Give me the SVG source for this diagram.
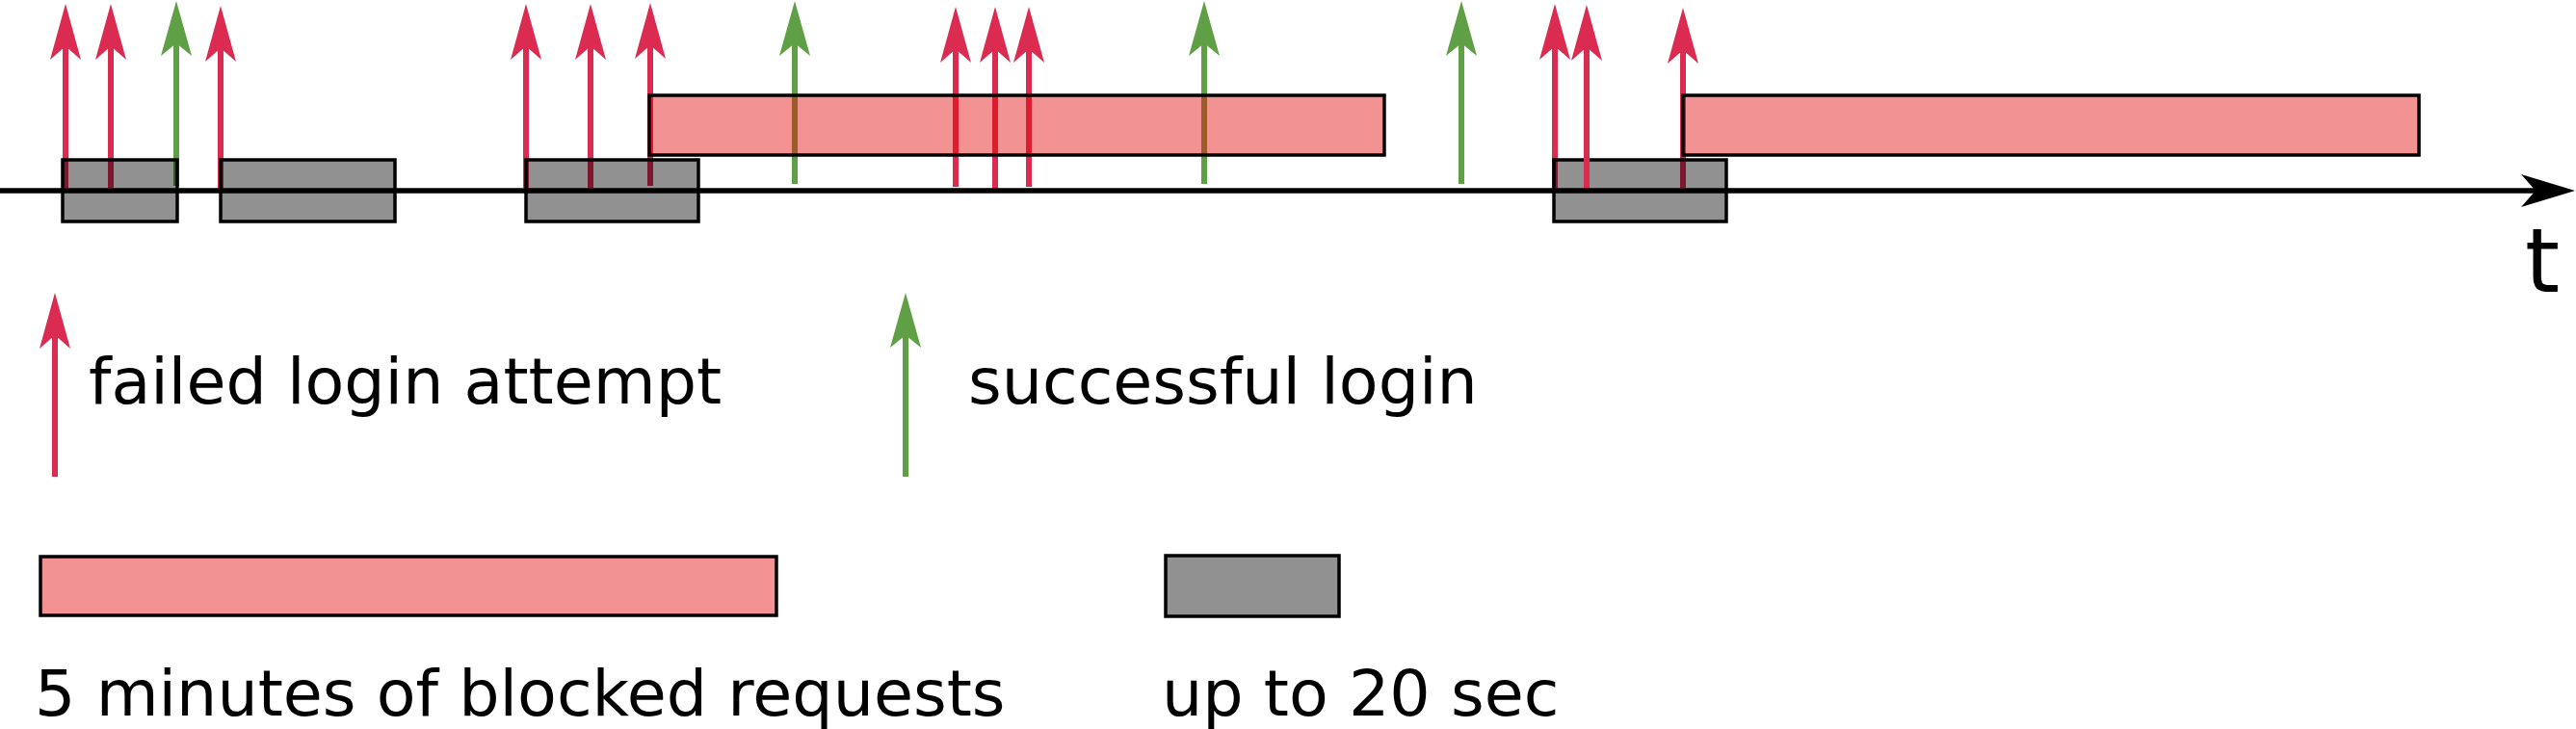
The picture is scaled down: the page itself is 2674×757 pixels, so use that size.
<svg xmlns="http://www.w3.org/2000/svg" width="2674" height="757" viewBox="0 0 2674 757">
<style>
.fail{stroke:#dc2b50;stroke-width:6;fill:none}
.ok{stroke:#5f9f46;stroke-width:6;fill:none}
.fail.a{marker-end:url(#hr)}
.ok.a{marker-end:url(#hg)}
.gray{fill:#000;fill-opacity:0.43;stroke:#000;stroke-width:3.5}
.block{fill:#e40707;fill-opacity:0.44;stroke:#000;stroke-width:3.5}
.lbl{font-family:"DejaVu Sans",sans-serif;font-size:66.7px;fill:#000}
</style>
<defs>
<marker id="hr" markerUnits="userSpaceOnUse" orient="auto" refX="0" refY="0" markerWidth="64" markerHeight="36" viewBox="-16 -18 64 36" overflow="visible">
<path d="M44,0 L-14,-16 L0,0 L-14,16 Z" fill="#dc2b50"/>
</marker>
<marker id="hg" markerUnits="userSpaceOnUse" orient="auto" refX="0" refY="0" markerWidth="64" markerHeight="36" viewBox="-16 -18 64 36" overflow="visible">
<path d="M44,0 L-13,-16 L0,0 L-13,16 Z" fill="#5f9f46"/>
</marker>
</defs>

<g id="connectors">
<g id="events-under">
<line class="fail a" x1="68" y1="195" x2="68" y2="48"/>
<line class="fail a" x1="115" y1="195" x2="115" y2="48"/>
<line class="ok a" x1="183" y1="193" x2="183" y2="45"/>
<line class="fail a" x1="229" y1="195" x2="229" y2="50"/>
<line class="fail a" x1="546" y1="195" x2="546" y2="48"/>
<line class="fail a" x1="613" y1="195" x2="613" y2="48"/>
<line class="fail a" x1="675" y1="193" x2="675" y2="47"/>
<line class="ok a" x1="825" y1="191" x2="825" y2="45"/>
<line class="fail a" x1="992" y1="194" x2="992" y2="51"/>
<line class="fail a" x1="1033" y1="198" x2="1033" y2="51"/>
<line class="fail a" x1="1068" y1="194" x2="1068" y2="51"/>
<line class="ok a" x1="1250" y1="191" x2="1250" y2="45"/>
<line class="ok a" x1="1517" y1="191" x2="1517" y2="45"/>
<line class="fail a" x1="1614" y1="195" x2="1614" y2="48"/>
<line class="fail a" x1="1747" y1="195" x2="1747" y2="52"/>
</g>
<g id="time-axis">
<line x1="0" y1="198" x2="2636" y2="198" stroke="#000" stroke-width="5.5"/>
<path d="M2673,198 L2617,181 L2632,198 L2617,215 Z" fill="#000"/>
</g>
</g>

<g id="wait1"><rect class="gray" x="65" y="166" width="119" height="64"/></g>
<g id="wait2"><rect class="gray" x="229" y="166" width="181" height="64"/></g>
<g id="wait3"><rect class="gray" x="546" y="166" width="179" height="64"/></g>
<g id="wait4"><rect class="gray" x="1613" y="166" width="179" height="64"/></g>
<g id="block1"><rect class="block" x="674" y="99" width="763" height="62"/></g>
<g id="block2"><rect class="block" x="1747" y="99" width="764" height="62"/></g>

<g id="event-top">
<line class="fail a" x1="1647" y1="195" x2="1647" y2="49"/>
</g>

<g id="t-label"><text class="lbl" x="2621" y="303" style="font-size:92px">t</text></g>

<g id="legend-failed">
<line class="fail a" x1="57" y1="495" x2="57" y2="348"/>
<text class="lbl" x="92" y="419">failed login attempt</text>
</g>
<g id="legend-success">
<line class="ok a" x1="940" y1="495" x2="940" y2="348"/>
<text class="lbl" x="1005" y="419">successful login</text>
</g>
<g id="legend-block">
<rect class="block" x="42" y="578" width="764" height="61"/>
<text class="lbl" x="36" y="743">5 minutes of blocked requests</text>
</g>
<g id="legend-wait">
<rect class="gray" x="1210" y="577" width="180" height="63"/>
<text class="lbl" x="1206" y="743">up to 20 sec</text>
</g>
</svg>
